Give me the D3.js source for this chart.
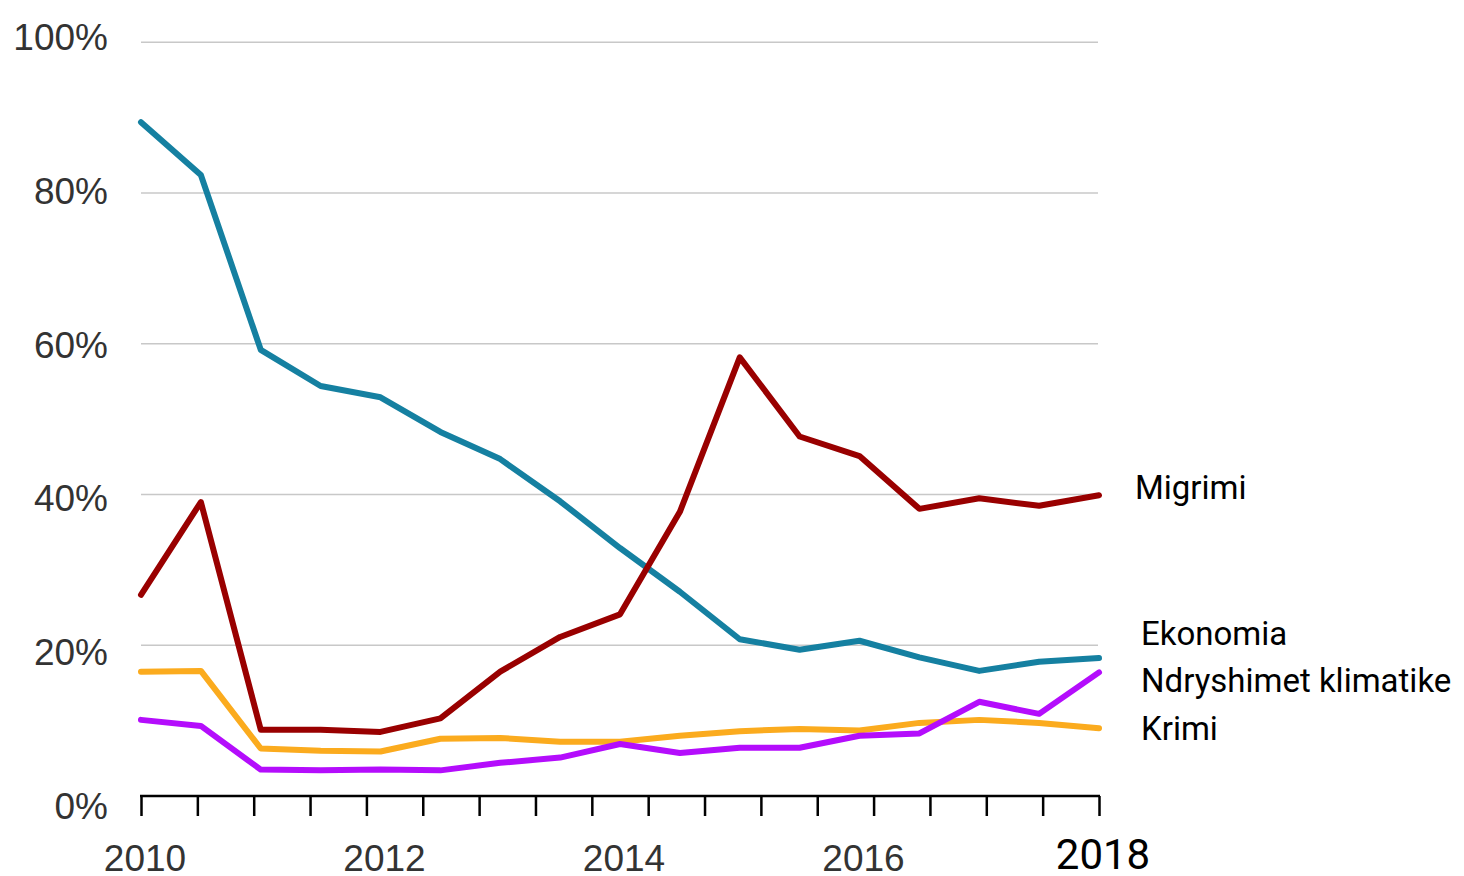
<!doctype html>
<html>
  <head>
    <meta charset="utf-8">
    <title>Migrimi, Ekonomia, Ndryshimet klimatike, Krimi</title>
    <script src="https://cdn.jsdelivr.net/npm/d3@7"></script>
    <style>
      body { margin: 0; background: #fff; }
      svg { display: block; }
      .grid line { stroke: #c8c8c8; stroke-width: 1.5px; }
      .ylab { font-family: "Liberation Sans", Arial, sans-serif; font-size: 37px; fill: #333; }
      .xlab { font-family: "Liberation Sans", Arial, sans-serif; font-size: 37px; fill: #333; }
      .serie { fill: none; stroke-width: 6px; stroke-linejoin: round; stroke-linecap: round; }
      .legend { font-family: Roboto, sans-serif; font-size: 33px; fill: #000; }
    </style>
  </head>
  <body>
    <div id="chart"></div>
    <script>
      // half-year steps from 2010 to 2018
      var periods = d3.range(2010, 2018.01, 0.5);
      var yearLabels = [2010, 2012, 2014, 2016];
      var lastYear = 2018;
      var yTicks = [0, 20, 40, 60, 80, 100];
      var axisTickCount = 18;

      var ekonomia = [89.4, 82.4, 59.2, 54.4, 52.9, 48.3, 44.7, 39.1, 32.9, 27.1, 20.8, 19.4, 20.6, 18.4, 16.6, 17.8, 18.3];
      var migrimi  = [26.7, 39.0, 8.8, 8.8, 8.5, 10.3, 16.5, 21.1, 24.1, 37.7, 58.2, 47.7, 45.1, 38.1, 39.5, 38.5, 39.9];
      var krimi    = [16.5, 16.6, 6.3, 6.0, 5.9, 7.6, 7.7, 7.2, 7.2, 8.0, 8.6, 8.9, 8.7, 9.7, 10.1, 9.7, 9.0];
      var klima    = [10.1, 9.3, 3.5, 3.4, 3.5, 3.4, 4.4, 5.1, 6.9, 5.7, 6.4, 6.4, 8.0, 8.3, 12.5, 10.9, 16.4];

      var series = [
        { name: 'Ekonomia', values: ekonomia, color: '#1580a1', labelY: 645 },
        { name: 'Krimi', values: krimi, color: '#fbab1e', labelY: 740 },
        { name: 'Ndryshimet klimatike', values: klima, color: '#b40dfc', labelY: 692 },
        { name: 'Migrimi', values: migrimi, color: '#990000', labelY: 499, labelX: 1135 }
      ];

      var width = 1464, height = 876;
      var x0 = 141, x1 = 1099, yTop = 42.3, yBottom = 796;

      var svg = d3.select('#chart').append('svg')
        .attr('width', width)
        .attr('height', height);

      var x = d3.scaleLinear().domain([2010, 2018]).range([x0, x1]);
      var y = d3.scaleLinear().domain([0, 100]).range([yBottom, yTop]);
      // the percent labels are spread a little wider than the gridlines
      var yLabel = d3.scaleLinear().domain([0, 100]).range([819, 50]);

      // gridlines
      svg.append('g').attr('class', 'grid')
        .selectAll('line')
        .data(yTicks.filter(function(d) { return d > 0; }))
        .enter().append('line')
        .attr('x1', x0).attr('x2', x1 - 1)
        .attr('y1', function(d) { return y(d); })
        .attr('y2', function(d) { return y(d); });

      svg.append('g')
        .selectAll('text')
        .data(yTicks)
        .enter().append('text')
        .attr('class', 'ylab')
        .attr('x', 108)
        .attr('y', function(d) { return yLabel(d); })
        .attr('text-anchor', 'end')
        .text(function(d) { return d + '%'; });

      // bottom axis, evenly spaced ticks
      var tickScale = d3.scaleLinear().domain([0, axisTickCount - 1]).range([x0, x1]);
      var axis = d3.axisBottom(tickScale)
        .tickValues(d3.range(axisTickCount))
        .tickSize(20)
        .tickSizeOuter(0)
        .tickFormat('');
      var ax = svg.append('g')
        .attr('transform', 'translate(0,' + yBottom + ')')
        .call(axis);
      ax.select('.domain').attr('stroke', '#000').attr('stroke-width', 2.5)
        .attr('d', 'M' + (x0 - 1) + ',0H' + (x1 + 1));
      ax.selectAll('.tick line').attr('stroke', '#000').attr('stroke-width', 2.5);

      svg.append('g')
        .selectAll('text')
        .data(yearLabels)
        .enter().append('text')
        .attr('class', 'xlab')
        .attr('x', function(d) { return x(d) + 4; })
        .attr('y', 871)
        .attr('text-anchor', 'middle')
        .text(function(d) { return d; });

      svg.append('text')
        .attr('class', 'legend')
        .attr('x', x(lastYear) + 4)
        .attr('y', 869)
        .attr('text-anchor', 'middle')
        .style('font-size', '42px')
        .text(lastYear);

      var line = d3.line()
        .x(function(d, i) { return x(periods[i]); })
        .y(function(d) { return y(d); });

      svg.append('g')
        .selectAll('path')
        .data(series)
        .enter().append('path')
        .attr('class', 'serie')
        .attr('stroke', function(d) { return d.color; })
        .attr('d', function(d) { return line(d.values); });

      svg.append('g')
        .selectAll('text')
        .data(series)
        .enter().append('text')
        .attr('class', 'legend')
        .attr('x', function(d) { return d.labelX || 1141; })
        .attr('y', function(d) { return d.labelY; })
        .text(function(d) { return d.name; });
    </script>
  </body>
</html>
